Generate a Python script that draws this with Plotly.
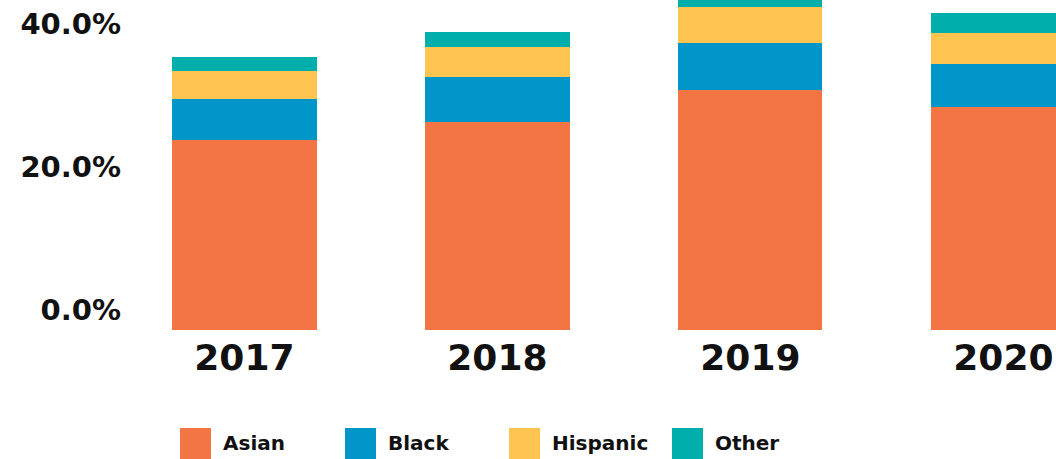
import plotly.graph_objects as go

# ---- data (percent of total) ----
years = ["2017", "2018", "2019", "2020"]
asian = [26.6, 29.1, 33.6, 31.2]
black = [5.7, 6.3, 6.6, 6.0]
hispanic = [3.9, 4.2, 5.0, 4.3]
other = [2.0, 2.1, 2.0, 2.9]

series_names = ["Asian", "Black", "Hispanic", "Other"]
series_values = [asian, black, hispanic, other]
colors = ["#F37543", "#0096C9", "#FDC44F", "#00AEAC"]

tick_vals = [0, 20, 40]
tick_text = ["0.0%", "20.0%", "40.0%"]

W, H = 1056, 459
ML, MR, MT, MB = 125, 0, 0, 129
PW, PH = W - ML - MR, H - MT - MB

FONT = "DejaVu Sans"

fig = go.Figure()
for name, vals, col in zip(series_names, series_values, colors):
    fig.add_trace(go.Bar(
        x=years, y=vals, name=name, marker=dict(color=col, line=dict(width=0)),
        width=0.57, showlegend=False,
    ))

# manual legend (large square swatches)
def px_x(p):
    return (p - ML) / PW

def px_y(p):
    return (MT + PH - p) / PH

legend_x = [180, 345, 509, 672]
sq = 31
for lx, name, col in zip(legend_x, series_names, colors):
    fig.add_shape(type="rect", xref="paper", yref="paper",
                  x0=px_x(lx), x1=px_x(lx + sq), y0=px_y(428 + sq), y1=px_y(428),
                  fillcolor=col, line=dict(width=0), layer="above")
    fig.add_annotation(xref="paper", yref="paper", x=px_x(lx + sq + 10), y=px_y(443),
                       text=name, showarrow=False, xanchor="left", yanchor="middle",
                       font=dict(family=FONT, size=20, color="#111111", weight="bold"))

fig.update_layout(
    barmode="stack",
    width=W, height=H,
    margin=dict(l=ML, r=MR, t=MT, b=MB, pad=0),
    paper_bgcolor="white", plot_bgcolor="white",
    showlegend=False,
    xaxis=dict(
        type="category", range=[-0.472, 3.208],
        showgrid=False, zeroline=False, showline=False, ticks="",
        ticklabelstandoff=3,
        tickfont=dict(family=FONT, size=36, color="#111111", weight="bold"),
        fixedrange=True,
    ),
    yaxis=dict(
        range=[0, PH / 7.15],
        tickvals=tick_vals, ticktext=tick_text,
        showgrid=False, zeroline=False, showline=False, ticks="",
        ticklabelshift=-20,
        ticklabelstandoff=3,
        tickfont=dict(family=FONT, size=29, color="#111111", weight="bold"),
        fixedrange=True,
    ),
)

fig.write_html("out.html")
